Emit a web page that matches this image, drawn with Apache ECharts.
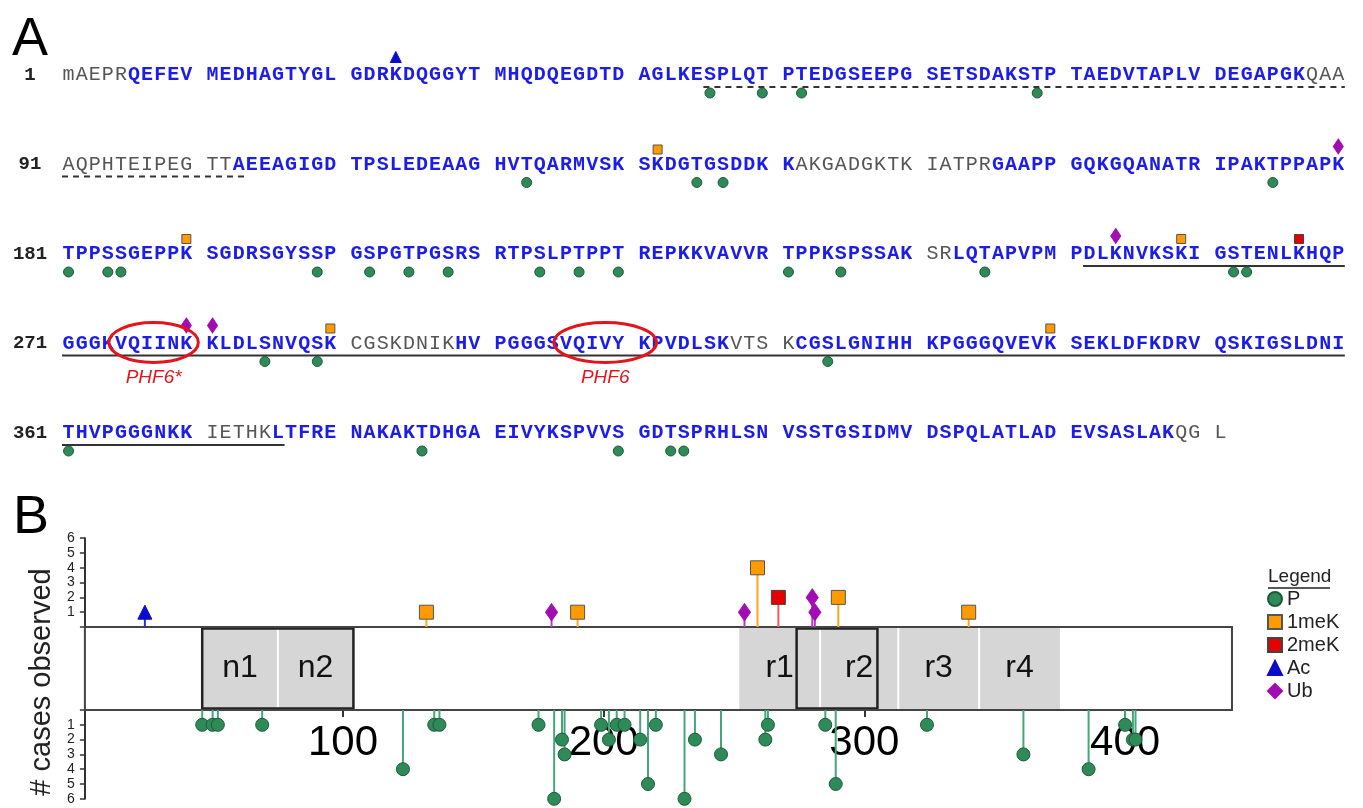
<!DOCTYPE html>
<html>
<head>
<meta charset="utf-8">
<title>Tau modification map</title>
<script src="https://cdn.jsdelivr.net/npm/echarts@6.0.0/dist/echarts.min.js"></script>
<style>
	html, body { margin: 0; padding: 0; background: #fff; }
	#main { width: 1363px; height: 808px; }
</style>
</head>
<body>
<div id="main"></div>
<script>
// sequence, 90 residues per row
const sequence = (
	"mAEPRQEFEV MEDHAGTYGL GDRKDQGGYT MHQDQEGDTD AGLKESPLQT PTEDGSEEPG SETSDAKSTP TAEDVTAPLV DEGAPGKQAA" +
	"AQPHTEIPEG TTAEEAGIGD TPSLEDEAAG HVTQARMVSK SKDGTGSDDK KAKGADGKTK IATPRGAAPP GQKGQANATR IPAKTPPAPK" +
	"TPPSSGEPPK SGDRSGYSSP GSPGTPGSRS RTPSLPTPPT REPKKVAVVR TPPKSPSSAK SRLQTAPVPM PDLKNVKSKI GSTENLKHQP" +
	"GGGKVQIINK KLDLSNVQSK CGSKDNIKHV PGGGSVQIVY KPVDLSKVTS KCGSLGNIHH KPGGGQVEVK SEKLDFKDRV QSKIGSLDNI" +
	"THVPGGGNKK IETHKLTFRE NAKAKTDHGA EIVYKSPVVS GDTSPRHLSN VSSTGSIDMV DSPQLATLAD EVSASLAKQG L"
).replace(/\s+/g, "");
const rowLabels = ["1", "91", "181", "271", "361"];

// residues not covered (grey)
const uncovered = [[1, 5], [88, 102], [142, 155], [241, 242], [291, 298], [318, 321], [371, 375], [439, 441]];
const dashedSpans = [[46, 103]];
const solidSpans = [[252, 376]];

const motifNames = ["PHF6*", "PHF6"];
const motifStarts = [275, 306];
const motifEnds = [280, 311];

// modification sites and # cases observed
const pSites = [46, 50, 52, 69, 123, 135, 137, 175, 181, 184, 185, 199, 202, 205, 208, 214, 217, 220, 231, 235, 245, 262, 263, 285, 289, 324, 361, 386, 400, 403, 404];
const pCases = [1, 1, 1, 1, 4, 1, 1, 1, 6, 2, 3, 1, 2, 1, 1, 2, 5, 1, 6, 2, 3, 2, 1, 1, 5, 1, 3, 4, 1, 2, 2];
const me1Sites = [132, 190, 259, 290, 340];
const me1Cases = [1, 1, 4, 2, 1];
const me2Sites = [267];
const me2Cases = [2];
const acSites = [24];
const acCases = [1];
const ubSites = [180, 254, 280, 281];
const ubCases = [1, 1, 2, 1];

const proteinLength = 441;
const domainNames = ["n1", "n2", "r1", "r2", "r3", "r4"];
const domainStarts = [46, 75, 252, 283, 313, 344];
const domainEnds = [75, 104, 283, 313, 344, 375];
const boxStarts = [46, 274];
const boxEnds = [104, 305];
const xTicks = [100, 200, 300, 400];

const SANS = '"Liberation Sans", Arial, Helvetica, sans-serif';
const MONO = '"Liberation Mono", "Courier New", monospace';
const SEQ_BLUE = "#1d1de8";
const SEQ_GREY = "#555";

const C = {
	P: { fill: "#2e8b57", border: "#1d5a3a", stem: "#45a777" },
	me1: { fill: "#ff9a00", border: "#555", stem: "#ffa51f" },
	me2: { fill: "#e60000", border: "#444", stem: "#f25c5c" },
	Ac: { fill: "#0b0bcc", border: "#0b0bcc", stem: "#2a2ad8" },
	Ub: { fill: "#a30cb3", border: "#a30cb3", stem: "#b53cc2" },
};

function isCovered(res) {
	return !uncovered.some(([a, b]) => res >= a && res <= b);
}

// residue -> [character position (centre), row]
function seqPos(res) {
	const idx = res - 1;
	const row = Math.floor(idx / 90);
	const col = idx % 90;
	return [col + Math.floor(col / 10) + 0.5, row];
}

const chart = echarts.init(document.getElementById("main"), null, { renderer: "canvas" });

function underlineSeries(spans, dashed) {
	return {
		type: "custom",
		xAxisIndex: 0,
		yAxisIndex: 0,
		silent: true,
		z: 2,
		data: spans,
		renderItem: (params, api) => {
			const s = api.value(0);
			const e = api.value(1);
			const children = [];
			for (let r = s; r <= e; ) {
				const row = Math.floor((r - 1) / 90);
				const rowEnd = Math.min(e, (row + 1) * 90);
				const p0 = api.coord([seqPos(r)[0] - 0.5, row]);
				const p1 = api.coord([seqPos(rowEnd)[0] + 0.5, row]);
				children.push({
					type: "line",
					shape: { x1: p0[0], y1: p0[1] + 12, x2: p1[0], y2: p1[1] + 12 },
					style: { stroke: "#333", lineWidth: 2, lineDash: dashed ? [6, 5] : null },
				});
				r = rowEnd + 1;
			}
			return { type: "group", children };
		},
	};
}

function seqMarkers(name, sites, symbol, size, col, dy) {
	return {
		type: "scatter",
		name,
		xAxisIndex: 0,
		yAxisIndex: 0,
		symbol,
		symbolSize: size,
		symbolOffset: [0, dy],
		itemStyle: { color: col.fill, borderColor: col.border, borderWidth: 1, opacity: 1 },
		data: sites.map(seqPos),
		silent: true,
		z: 4,
	};
}

function stems(sites, cases, col, grid) {
	return {
		type: "custom",
		xAxisIndex: grid,
		yAxisIndex: grid,
		silent: true,
		z: 3,
		data: sites.map((s, i) => [s, cases[i]]),
		renderItem: (params, api) => {
			const a = api.coord([api.value(0), 0]);
			const b = api.coord([api.value(0), api.value(1)]);
			return {
				type: "line",
				shape: { x1: a[0], y1: a[1], x2: b[0], y2: b[1] },
				style: { stroke: col.stem, lineWidth: 2 },
			};
		},
	};
}

function lollipops(name, sites, cases, symbol, size, col, grid) {
	return {
		type: "scatter",
		name,
		xAxisIndex: grid,
		yAxisIndex: grid,
		symbol,
		symbolSize: size,
		itemStyle: { color: col.fill, borderColor: col.border, borderWidth: 1, opacity: 1 },
		data: sites.map((s, i) => [s, cases[i]]),
		z: 5,
	};
}

const countAxis = (grid, inverse) => ({
	gridIndex: grid,
	type: "value",
	min: 0,
	max: 6,
	interval: 1,
	inverse,
	axisLine: { show: true, lineStyle: { color: "#333", width: 2 } },
	axisTick: { show: true, length: 5, lineStyle: { color: "#333", width: 1.5 } },
	axisLabel: {
		formatter: (v) => (v === 0 ? "" : String(v)),
		showMaxLabel: true,
		showMinLabel: true,
		hideOverlap: false,
		fontSize: 14,
		lineHeight: 12,
		fontFamily: SANS,
		color: "#222",
		margin: 10,
	},
	splitLine: { show: false },
});

const option = {
	backgroundColor: "#fff",
	animation: false,
	grid: [
		{ left: 62, top: 75, width: 98 * 13.09, height: 358, outerBoundsMode: "none" },
		{ left: 84.9, top: 538.2, width: 450 * 2.607, height: 88.8, outerBoundsMode: "none" },
		{ left: 84.9, top: 627, width: 450 * 2.607, height: 83, outerBoundsMode: "none" },
		{ left: 84.9, top: 710, width: 450 * 2.607, height: 88.8, outerBoundsMode: "none" },
	],
	xAxis: [
		{ gridIndex: 0, type: "value", min: 0, max: 98, show: false },
		{ gridIndex: 1, type: "value", min: 1, max: 451, show: false },
		{ gridIndex: 2, type: "value", min: 1, max: 451, show: false },
		{
			gridIndex: 3,
			type: "value",
			min: 1,
			max: 451,
			position: "top",
			z: 0,
			axisLine: { show: false },
			splitLine: { show: false },
			axisTick: { show: true, inside: true, length: 7, customValues: xTicks, lineStyle: { color: "#333", width: 2 } },
			axisLabel: { inside: true, customValues: xTicks, fontSize: 42, fontFamily: SANS, color: "#000", margin: 12 },
		},
	],
	yAxis: [
		{
			gridIndex: 0,
			type: "value",
			min: 0,
			max: 4,
			interval: 1,
			inverse: true,
			axisLine: { show: false },
			axisTick: { show: false },
			splitLine: { show: false },
			axisLabel: {
				formatter: (v) => rowLabels[v] || "",
				showMaxLabel: true,
				showMinLabel: true,
				align: "center",
				margin: 32,
				fontSize: 19,
				fontWeight: "bold",
				fontFamily: MONO,
				color: "#222",
			},
		},
		countAxis(1, false),
		{ gridIndex: 2, type: "value", min: 0, max: 1, show: false },
		countAxis(3, true),
	],
	legend: {
		orient: "vertical",
		left: 1267,
		top: 589,
		padding: 0,
		itemGap: 3,
		itemWidth: 14,
		itemHeight: 14,
		selectedMode: false,
		textStyle: { fontSize: 20, fontFamily: SANS, color: "#222" },
		data: ["P", "1meK", "2meK", "Ac", "Ub"],
	},
	graphic: [
		{ type: "text", x: 30, y: 40, style: { text: "A", font: "54px " + SANS, fill: "#000", align: "center", verticalAlign: "middle" } },
		{ type: "text", x: 31, y: 518, style: { text: "B", font: "54px " + SANS, fill: "#000", align: "center", verticalAlign: "middle" } },
		{
			type: "text",
			x: 42,
			y: 682,
			rotation: Math.PI / 2,
			style: { text: "# cases observed", font: "29px " + SANS, fill: "#222", align: "center", verticalAlign: "middle" },
		},
		{ type: "text", x: 1268, y: 577, style: { text: "Legend", font: "19px " + SANS, fill: "#222", verticalAlign: "middle" } },
		{ type: "line", shape: { x1: 1268, y1: 588, x2: 1330, y2: 588 }, style: { stroke: "#222", lineWidth: 1.5 } },
	],
	series: [
		// Panel A: sequence letters
		{
			type: "custom",
			xAxisIndex: 0,
			yAxisIndex: 0,
			silent: true,
			z: 3,
			data: sequence.split("").map((ch, i) => seqPos(i + 1)),
			renderItem: (params, api) => {
				const pt = api.coord([api.value(0), api.value(1)]);
				const res = params.dataIndex + 1;
				const cov = isCovered(res);
				return {
					type: "text",
					x: pt[0],
					y: pt[1],
					style: {
						text: sequence[params.dataIndex],
						fill: cov ? SEQ_BLUE : SEQ_GREY,
						font: (cov ? "bold " : "") + "20px " + MONO,
						align: "center",
						verticalAlign: "middle",
					},
				};
			},
		},
		underlineSeries(dashedSpans, true),
		underlineSeries(solidSpans, false),
		// PHF6 motifs
		{
			type: "custom",
			xAxisIndex: 0,
			yAxisIndex: 0,
			silent: true,
			z: 5,
			data: motifStarts.map((s, i) => [s, motifEnds[i]]),
			renderItem: (params, api) => {
				const a = seqPos(api.value(0));
				const b = seqPos(api.value(1));
				const pa = api.coord(a);
				const pb = api.coord(b);
				const cx = (pa[0] + pb[0]) / 2;
				const cy = pa[1] - 1;
				return {
					type: "group",
					children: [
						{
							type: "ellipse",
							shape: { cx, cy, rx: (pb[0] - pa[0]) / 2 + 12, ry: 20 },
							style: { fill: null, stroke: "#e3141c", lineWidth: 3 },
						},
						{
							type: "text",
							x: cx,
							y: cy + 35,
							style: {
								text: motifNames[params.dataIndex],
								font: "italic 19px " + SANS,
								fill: "#e3141c",
								align: "center",
								verticalAlign: "middle",
							},
						},
					],
				};
			},
		},
		seqMarkers("seqP", pSites, "circle", 10, C.P, 18),
		seqMarkers("seq1meK", me1Sites, "rect", 9, C.me1, -15),
		seqMarkers("seq2meK", me2Sites, "rect", 9, C.me2, -15),
		seqMarkers("seqAc", acSites, "triangle", 11, C.Ac, -18),
		seqMarkers("seqUb", ubSites, "diamond", [10, 15], C.Ub, -18),

		// Panel B: protein bar with domains
		{
			type: "custom",
			xAxisIndex: 2,
			yAxisIndex: 2,
			silent: true,
			z: 1,
			data: [[1, 0]],
			renderItem: (params, api) => {
				const X = (v) => api.coord([v, 0])[0];
				const top = api.coord([1, 1])[1];
				const bot = api.coord([1, 0])[1];
				const mid = (top + bot) / 2;
				const ch = [];
				ch.push({ type: "rect", shape: { x: X(1), y: top, width: X(proteinLength) - X(1), height: bot - top }, style: { fill: "#fff" } });
				domainNames.forEach((n, i) => {
					ch.push({
						type: "rect",
						shape: { x: X(domainStarts[i]), y: top, width: X(domainEnds[i]) - X(domainStarts[i]), height: bot - top },
						style: { fill: "#d6d6d6" },
					});
				});
				domainNames.forEach((n, i) => {
					if (i > 0 && domainEnds[i - 1] === domainStarts[i]) {
						const x = X(domainStarts[i]);
						ch.push({ type: "line", shape: { x1: x, y1: top, x2: x, y2: bot }, style: { stroke: "#fff", lineWidth: 2 } });
					}
				});
				domainNames.forEach((n, i) => {
					ch.push({
						type: "text",
						x: (X(domainStarts[i]) + X(domainEnds[i])) / 2,
						y: mid,
						style: { text: n, font: "32px " + SANS, fill: "#111", align: "center", verticalAlign: "middle" },
					});
				});
				boxStarts.forEach((s, i) => {
					ch.push({
						type: "rect",
						shape: { x: X(s), y: top + 1.5, width: X(boxEnds[i]) - X(s), height: bot - top - 3 },
						style: { fill: null, stroke: "#222", lineWidth: 2.5 },
					});
				});
				ch.push({
					type: "rect",
					shape: { x: X(1), y: top, width: X(proteinLength) - X(1), height: bot - top },
					style: { fill: null, stroke: "#444", lineWidth: 2 },
				});
				return { type: "group", children: ch };
			},
		},

		// Panel B: lollipops
		stems(me1Sites, me1Cases, C.me1, 1),
		stems(me2Sites, me2Cases, C.me2, 1),
		stems(acSites, acCases, C.Ac, 1),
		stems(ubSites, ubCases, C.Ub, 1),
		stems(pSites, pCases, C.P, 3),
		lollipops("P", pSites, pCases, "circle", 13, C.P, 3),
		lollipops("1meK", me1Sites, me1Cases, "rect", 14, C.me1, 1),
		lollipops("2meK", me2Sites, me2Cases, "rect", 14, C.me2, 1),
		lollipops("Ac", acSites, acCases, "triangle", 14, C.Ac, 1),
		lollipops("Ub", ubSites, ubCases, "diamond", [12, 17], C.Ub, 1),
	],
};

chart.setOption(option);
</script>
</body>
</html>
